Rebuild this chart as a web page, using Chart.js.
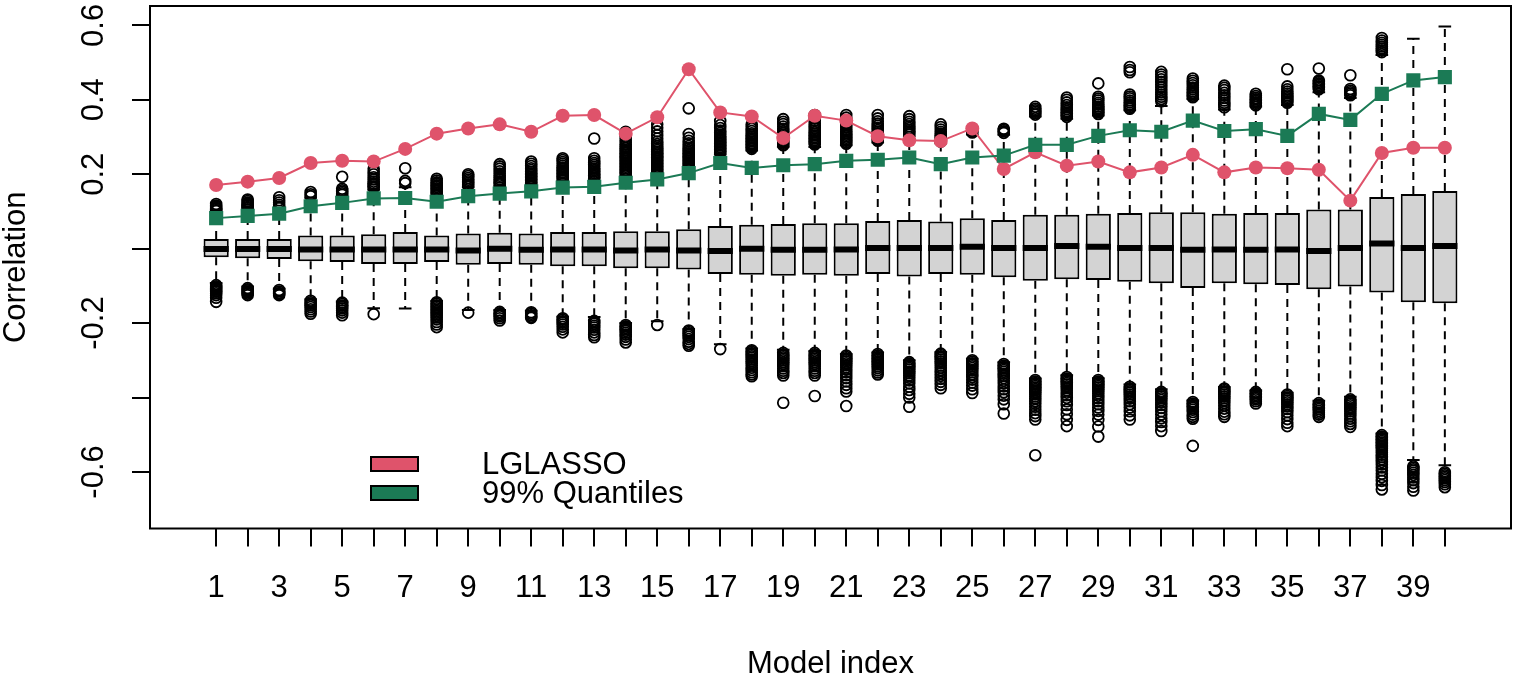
<!DOCTYPE html>
<html>
<head>
<meta charset="utf-8">
<script src="https://cdn.jsdelivr.net/npm/chart.js@4.4.1/dist/chart.umd.min.js"></script>
<style>
html,body{margin:0;padding:0;background:#ffffff;}
#wrap{width:1517px;height:680px;position:relative;}
</style>
</head>
<body>
<div id="wrap"><canvas id="c"></canvas></div>
<script>
// ---------------- data ----------------
const models = [1,2,3,4,5,6,7,8,9,10,11,12,13,14,15,16,17,18,19,20,21,22,23,24,25,26,27,28,29,30,31,32,33,34,35,36,37,38,39,40];

const q1  = [-0.023,-0.026,-0.028,-0.034,-0.036,-0.041,-0.041,-0.036,-0.043,-0.041,-0.043,-0.047,-0.047,-0.053,-0.053,-0.056,-0.068,-0.070,-0.073,-0.070,
             -0.073,-0.068,-0.075,-0.068,-0.070,-0.077,-0.086,-0.082,-0.084,-0.089,-0.093,-0.106,-0.093,-0.096,-0.098,-0.109,-0.102,-0.118,-0.144,-0.147];
const med = [-0.001,-0.001,-0.001,-0.002,-0.002,-0.002,-0.002,-0.002,-0.005,0.000,-0.003,-0.002,-0.002,-0.005,-0.002,-0.005,-0.006,0.000,-0.003,-0.003,
             -0.002,0.002,0.002,0.002,0.005,0.002,0.002,0.007,0.005,0.002,0.002,-0.003,-0.002,-0.003,-0.002,-0.006,0.002,0.014,0.002,0.007];
const q3  = [0.026,0.026,0.026,0.035,0.035,0.039,0.045,0.035,0.041,0.043,0.041,0.045,0.045,0.047,0.047,0.052,0.061,0.064,0.066,0.068,
             0.068,0.074,0.077,0.073,0.082,0.077,0.091,0.091,0.094,0.096,0.098,0.098,0.094,0.096,0.096,0.105,0.105,0.139,0.147,0.155];
const whiskLo = [-0.092,-0.102,-0.108,-0.136,-0.142,-0.160,-0.161,-0.141,-0.165,-0.165,-0.167,-0.183,-0.184,-0.200,-0.195,-0.216,-0.257,-0.268,-0.272,-0.275,
                 -0.283,-0.279,-0.300,-0.278,-0.296,-0.305,-0.349,-0.340,-0.348,-0.365,-0.378,-0.408,-0.372,-0.381,-0.387,-0.409,-0.398,-0.497,-0.568,-0.582];
const whiskHi = [0.097,0.102,0.106,0.137,0.141,0.158,0.165,0.140,0.165,0.168,0.166,0.182,0.182,0.195,0.195,0.212,0.253,0.264,0.274,0.273,
                 0.278,0.285,0.302,0.283,0.307,0.306,0.355,0.349,0.358,0.372,0.383,0.402,0.374,0.382,0.386,0.420,0.405,0.520,0.564,0.597];
const lglasso = [0.171,0.180,0.190,0.230,0.236,0.234,0.268,0.309,0.323,0.334,0.314,0.357,0.359,0.309,0.353,0.482,0.366,0.355,0.297,0.357,
                 0.344,0.302,0.291,0.289,0.323,0.214,0.259,0.223,0.234,0.205,0.218,0.252,0.205,0.218,0.216,0.212,0.129,0.257,0.271,0.271];
const quant99 = [0.082,0.088,0.094,0.114,0.123,0.135,0.136,0.126,0.141,0.148,0.154,0.164,0.166,0.177,0.186,0.203,0.230,0.217,0.224,0.227,
                 0.236,0.239,0.245,0.227,0.245,0.250,0.279,0.279,0.303,0.318,0.314,0.344,0.316,0.321,0.303,0.362,0.346,0.416,0.452,0.461];

const outHigh = [
 [0.101,0.104,0.107,0.110,0.113,0.116,0.120],
 [0.106,0.109,0.112,0.115,0.118,0.121,0.124,0.128,0.132],
 [0.109,0.113,0.118,0.124,0.130,0.138],
 [0.141,0.146,0.152],
 [0.145,0.149,0.153,0.157,0.161,0.193],
 [0.163,0.167,0.171,0.175,0.180,0.186,0.192,0.200,0.207,0.215],
 [0.176,0.182,0.216],
 [0.146,0.150,0.154,0.158,0.162,0.166,0.170,0.174,0.178,0.183,0.188],
 [0.169,0.173,0.177,0.181,0.185,0.190,0.195,0.200],
 [0.173,0.177,0.181,0.186,0.191,0.196,0.202,0.208,0.215,0.221,0.227],
 [0.170,0.174,0.178,0.182,0.186,0.190,0.194,0.198,0.202,0.206,0.211,0.216,0.222,0.228,0.234],
 [0.186,0.190,0.194,0.198,0.202,0.206,0.210,0.214,0.218,0.223,0.228,0.233,0.238,0.243],
 [0.187,0.191,0.195,0.199,0.203,0.207,0.211,0.215,0.220,0.225,0.230,0.236,0.243,0.296],
 [0.200,0.204,0.208,0.212,0.216,0.220,0.224,0.228,0.232,0.236,0.240,0.244,0.248,0.252,0.256,0.260,0.265,0.270,0.275,0.280,0.286,0.292,0.300,0.307,0.314],
 [0.200,0.204,0.208,0.212,0.216,0.220,0.224,0.228,0.232,0.236,0.240,0.244,0.248,0.252,0.256,0.260,0.265,0.270,0.275,0.281,0.288,0.296,0.305,0.315,0.325,0.334],
 [0.216,0.220,0.224,0.228,0.232,0.236,0.240,0.244,0.248,0.252,0.256,0.260,0.265,0.270,0.276,0.283,0.290,0.298,0.308,0.377],
 [0.257,0.261,0.265,0.269,0.273,0.277,0.281,0.285,0.289,0.293,0.297,0.301,0.306,0.311,0.317,0.324,0.332,0.343],
 [0.268,0.272,0.276,0.280,0.284,0.288,0.292,0.296,0.300,0.305,0.310,0.316,0.322,0.328,0.334],
 [0.278,0.282,0.286,0.290,0.294,0.298,0.302,0.306,0.311,0.316,0.322,0.328,0.335,0.341,0.348],
 [0.280,0.284,0.288,0.292,0.296,0.300,0.304,0.308,0.313,0.318,0.324,0.330,0.337,0.344,0.351,0.359],
 [0.282,0.286,0.290,0.294,0.298,0.302,0.306,0.310,0.315,0.320,0.326,0.332,0.338,0.345,0.352,0.359],
 [0.290,0.294,0.298,0.302,0.306,0.310,0.314,0.319,0.324,0.330,0.336,0.342,0.350,0.359],
 [0.307,0.311,0.315,0.319,0.324,0.329,0.335,0.341,0.348,0.356],
 [0.288,0.292,0.296,0.300,0.304,0.309,0.314,0.320,0.327,0.334],
 [0.312,0.316,0.320,0.323],
 [0.311,0.315,0.319,0.322],
 [0.360,0.364,0.368,0.372,0.376,0.381],
 [0.354,0.358,0.362,0.366,0.370,0.375,0.380,0.386,0.393,0.400,0.406],
 [0.362,0.366,0.370,0.374,0.378,0.382,0.387,0.392,0.398,0.403,0.408,0.444],
 [0.376,0.380,0.384,0.388,0.393,0.398,0.404,0.409,0.414,0.474,0.480,0.488],
 [0.396,0.402,0.408,0.414,0.420,0.427,0.434,0.441,0.448,0.455,0.462,0.468,0.475],
 [0.407,0.411,0.415,0.419,0.423,0.428,0.433,0.439,0.445,0.451,0.457],
 [0.380,0.386,0.392,0.398,0.405,0.412,0.419,0.426,0.432,0.438],
 [0.385,0.389,0.393,0.397,0.401,0.405,0.410,0.416],
 [0.392,0.396,0.400,0.404,0.408,0.412,0.417,0.422,0.428,0.436,0.482],
 [0.428,0.432,0.436,0.440,0.444,0.448,0.452,0.484],
 [0.412,0.416,0.420,0.424,0.429,0.466],
 [0.528,0.533,0.538,0.543,0.548,0.553,0.559,0.566],
 [],
 []
];

const outLow = [
 [-0.098,-0.101,-0.104,-0.107,-0.110,-0.113,-0.116,-0.120,-0.125,-0.132,-0.143],
 [-0.106,-0.109,-0.112,-0.115,-0.118,-0.121,-0.125],
 [-0.111,-0.115,-0.119,-0.122,-0.125],
 [-0.140,-0.144,-0.148,-0.152,-0.157,-0.163,-0.169,-0.175],
 [-0.145,-0.149,-0.153,-0.157,-0.161,-0.166,-0.172,-0.179],
 [-0.176],
 [],
 [-0.144,-0.148,-0.152,-0.156,-0.160,-0.164,-0.168,-0.172,-0.176,-0.180,-0.185,-0.190,-0.197,-0.204,-0.211],
 [-0.172],
 [-0.170,-0.174,-0.178,-0.182,-0.187,-0.193],
 [-0.171,-0.175,-0.179,-0.183,-0.186],
 [-0.187,-0.191,-0.195,-0.199,-0.204,-0.210,-0.217,-0.225],
 [-0.194,-0.198,-0.202,-0.207,-0.212,-0.218,-0.225,-0.232,-0.238],
 [-0.205,-0.209,-0.213,-0.217,-0.221,-0.226,-0.231,-0.237,-0.244,-0.252],
 [-0.205],
 [-0.220,-0.224,-0.228,-0.232,-0.237,-0.243,-0.250,-0.256,-0.261],
 [-0.270],
 [-0.273,-0.277,-0.281,-0.285,-0.289,-0.293,-0.298,-0.303,-0.308,-0.314,-0.320,-0.326,-0.332,-0.338,-0.343],
 [-0.280,-0.284,-0.288,-0.292,-0.296,-0.300,-0.305,-0.310,-0.316,-0.322,-0.328,-0.334,-0.341,-0.414],
 [-0.280,-0.284,-0.288,-0.292,-0.296,-0.300,-0.305,-0.310,-0.316,-0.322,-0.328,-0.334,-0.341,-0.396],
 [-0.287,-0.291,-0.295,-0.299,-0.303,-0.308,-0.313,-0.319,-0.325,-0.332,-0.340,-0.348,-0.357,-0.366,-0.375,-0.384,-0.423],
 [-0.283,-0.287,-0.291,-0.295,-0.299,-0.303,-0.307,-0.311,-0.316,-0.321,-0.327,-0.333,-0.338],
 [-0.305,-0.309,-0.313,-0.317,-0.321,-0.325,-0.330,-0.335,-0.341,-0.347,-0.354,-0.362,-0.371,-0.380,-0.390,-0.400,-0.425],
 [-0.282,-0.286,-0.290,-0.294,-0.298,-0.303,-0.308,-0.314,-0.320,-0.327,-0.334,-0.342,-0.350,-0.358,-0.366,-0.375],
 [-0.300,-0.304,-0.308,-0.312,-0.316,-0.321,-0.326,-0.332,-0.338,-0.345,-0.352,-0.360,-0.368,-0.378,-0.388],
 [-0.310,-0.314,-0.318,-0.322,-0.326,-0.331,-0.336,-0.342,-0.348,-0.355,-0.362,-0.370,-0.378,-0.386,-0.395,-0.405,-0.418,-0.443],
 [-0.353,-0.357,-0.361,-0.365,-0.369,-0.373,-0.377,-0.381,-0.386,-0.391,-0.397,-0.403,-0.410,-0.417,-0.425,-0.433,-0.442,-0.450,-0.459,-0.555],
 [-0.345,-0.349,-0.353,-0.357,-0.361,-0.365,-0.370,-0.375,-0.381,-0.387,-0.394,-0.401,-0.410,-0.420,-0.432,-0.445,-0.460,-0.477],
 [-0.353,-0.357,-0.361,-0.365,-0.369,-0.373,-0.378,-0.383,-0.389,-0.395,-0.402,-0.410,-0.418,-0.427,-0.436,-0.446,-0.460,-0.478,-0.505],
 [-0.371,-0.375,-0.379,-0.383,-0.387,-0.392,-0.397,-0.403,-0.410,-0.418,-0.427,-0.437,-0.448,-0.459],
 [-0.385,-0.389,-0.393,-0.397,-0.402,-0.407,-0.413,-0.420,-0.428,-0.437,-0.446,-0.456,-0.466,-0.477,-0.490],
 [-0.412,-0.416,-0.420,-0.424,-0.428,-0.433,-0.439,-0.446,-0.452,-0.457,-0.530],
 [-0.376,-0.380,-0.384,-0.388,-0.392,-0.397,-0.402,-0.408,-0.415,-0.422,-0.430,-0.438,-0.445,-0.452],
 [-0.385,-0.389,-0.393,-0.397,-0.401,-0.405,-0.410,-0.416],
 [-0.392,-0.396,-0.400,-0.404,-0.408,-0.413,-0.418,-0.424,-0.431,-0.439,-0.448,-0.458,-0.468,-0.477],
 [-0.415,-0.419,-0.423,-0.427,-0.431,-0.436,-0.441,-0.446,-0.452],
 [-0.405,-0.409,-0.413,-0.417,-0.421,-0.426,-0.431,-0.437,-0.443,-0.450,-0.457,-0.464,-0.471,-0.479],
 [-0.501,-0.505,-0.509,-0.513,-0.517,-0.521,-0.525,-0.529,-0.533,-0.538,-0.543,-0.548,-0.554,-0.560,-0.566,-0.573,-0.580,-0.588,-0.596,-0.605,-0.614,-0.624,-0.635,-0.647],
 [-0.585,-0.589,-0.593,-0.597,-0.602,-0.608,-0.615,-0.622,-0.630,-0.640,-0.650],
 [-0.601,-0.605,-0.609,-0.613,-0.617,-0.622,-0.627,-0.633,-0.641]
];

const xTickLabels = ['1','','3','','5','','7','','9','','11','','13','','15','','17','','19','',
                     '21','','23','','25','','27','','29','','31','','33','','35','','37','','39',''];
const yTickValues = [-0.6,-0.4,-0.2,0,0.2,0.4,0.6];
const yTickLabels = ['-0.6','','-0.2','','0.2','0.4','0.6'];
const seriesNames = ['LGLASSO','99% Quantiles'];
const seriesColors = ['#DF536B','#1B7A55'];

// ------------- derived chart data -------------
const boxData = models.map((m,i)=>({x:m, y:[q1[i], q3[i]]}));
const medData = models.map((m,i)=>({x:m, y:med[i]}));
const whiskerData = [];
models.forEach((m,i)=>{
  whiskerData.push({x:m,y:q3[i]},{x:m,y:whiskHi[i]},{x:m,y:null});
  whiskerData.push({x:m,y:q1[i]},{x:m,y:whiskLo[i]},{x:m,y:null});
});
const stapleData = [];
models.forEach((m,i)=>{ stapleData.push({x:m,y:whiskLo[i]},{x:m,y:whiskHi[i]}); });
const outlierData = [];
models.forEach((m,i)=>{
  outHigh[i].forEach(v=>outlierData.push({x:m,y:v}));
  outLow[i].forEach(v=>outlierData.push({x:m,y:v}));
});
const lglassoData = models.map((m,i)=>({x:m,y:lglasso[i]}));
const quantData = models.map((m,i)=>({x:m,y:quant99[i]}));

const FONT = "'Liberation Sans', Arial, Helvetica, sans-serif";
Chart.defaults.font.family = FONT;
Chart.defaults.color = '#000';

const frameAndLegend = {
  id: 'frameAndLegend',
  afterDraw(chart){
    const {ctx, chartArea:a} = chart;
    ctx.save();
    ctx.strokeStyle = '#000';
    ctx.lineWidth = 2;
    ctx.strokeRect(a.left, a.top, a.right - a.left, a.bottom - a.top);
    // legend
    const boxX = 371, boxW = 47, boxH = 14;
    const rowsY = [464, 493];
    ctx.font = "31px " + FONT;
    ctx.textBaseline = 'middle';
    ctx.textAlign = 'left';
    seriesNames.forEach((name, k)=>{
      const cy = rowsY[k];
      ctx.fillStyle = seriesColors[k];
      ctx.fillRect(boxX, cy - boxH/2, boxW, boxH);
      ctx.lineWidth = 2;
      ctx.strokeStyle = '#000';
      ctx.strokeRect(boxX, cy - boxH/2, boxW, boxH);
      ctx.fillStyle = '#000';
      ctx.fillText(name, 482, cy + 1);
    });
    ctx.restore();
  }
};

new Chart(document.getElementById('c'), {
  type: 'scatter',
  data: {
    datasets: [
      { type:'line', label:'whiskers', data: whiskerData, borderColor:'#000', borderWidth:2,
        borderDash:[8,6], pointRadius:0, spanGaps:false, fill:false, order:7 },
      { type:'scatter', label:'staples', data: stapleData, pointStyle:'line', pointRadius:6.3,
        borderColor:'#000', pointBorderWidth:2, order:7 },
      { type:'bar', label:'boxes', data: boxData, backgroundColor:'#D3D3D3', borderColor:'#000',
        borderWidth:2, borderSkipped:false, barPercentage:0.8, categoryPercentage:1, grouped:false, order:6 },
      { type:'scatter', label:'median', data: medData, pointStyle:'line', pointRadius:12.6,
        borderColor:'#000', pointBorderWidth:6, order:5 },
      { type:'scatter', label:'outliers', data: outlierData, pointStyle:'circle', pointRadius:5.4,
        borderColor:'#000', backgroundColor:'rgba(0,0,0,0)', pointBorderWidth:1.8, order:4 },
      { type:'line', label: seriesNames[0], data: lglassoData, borderColor: seriesColors[0], borderWidth:2,
        pointStyle:'circle', pointRadius:7, pointBackgroundColor: seriesColors[0], pointBorderColor: seriesColors[0],
        pointBorderWidth:0, fill:false, order:2 },
      { type:'line', label: seriesNames[1], data: quantData, borderColor: seriesColors[1], borderWidth:2,
        pointStyle:'rect', pointRadius:10, pointBackgroundColor: seriesColors[1], pointBorderColor: seriesColors[1],
        pointBorderWidth:0, fill:false, order:1 }
    ]
  },
  options: {
    responsive: true,
    maintainAspectRatio: false,
    animation: false,
    devicePixelRatio: 1,
    layout: { autoPadding: false, padding: { left:0, top:6, right:6, bottom:0 } },
    plugins: { legend:{display:false}, tooltip:{enabled:false}, title:{display:false} },
    scales: {
      x: {
        type:'linear', min:-1.1, max:42.1, offset:false,
        grid:{ display:true, drawOnChartArea:false, drawTicks:true, tickLength:18, color:'#000', lineWidth:2, offset:false },
        border:{ display:false },
        afterBuildTicks(scale){ scale.ticks = models.map(v=>({value:v})); },
        afterFit(scale){ scale.height = 151.5; scale.paddingLeft = 0; scale.paddingRight = 0; },
        ticks:{ autoSkip:false, maxRotation:0, minRotation:0, padding:23, color:'#000',
                font:{ size:31, family:FONT },
                callback(value, index){ return xTickLabels[index]; } },
        title:{ display:true, text:'Model index', color:'#000', font:{ size:31, family:FONT, lineHeight:1 }, padding:{top:0,bottom:0} }
      },
      y: {
        type:'linear', min:-0.752, max:0.652,
        grid:{ display:true, drawOnChartArea:false, drawTicks:true, tickLength:18, color:'#000', lineWidth:2 },
        border:{ display:false },
        afterBuildTicks(scale){ scale.ticks = yTickValues.map(v=>({value:v})); },
        afterFit(scale){ scale.width = 150; scale.paddingTop = 0; scale.paddingBottom = 0; },
        ticks:{ autoSkip:false, minRotation:90, maxRotation:90, crossAlign:'center', padding:11, color:'#000',
                font:{ size:31, family:FONT },
                callback(value, index){ return yTickLabels[index]; } },
        title:{ display:true, text:'Correlation', color:'#000', font:{ size:31, family:FONT, lineHeight:1 }, padding:{top:1,bottom:0} }
      }
    }
  },
  plugins: [frameAndLegend]
});
</script>
</body>
</html>
